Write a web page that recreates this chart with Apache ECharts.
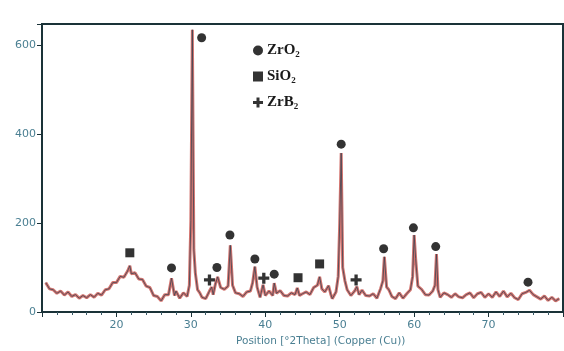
<!DOCTYPE html>
<html>
<head>
<meta charset="utf-8">
<script src="https://cdn.jsdelivr.net/npm/echarts@6/dist/echarts.min.js"></script>
<style>
  html, body { margin: 0; padding: 0; background: #fff; }
  #chart { width: 564px; height: 351px; }
</style>
</head>
<body>
<div id="chart"></div>
<script>
// 2theta positions (deg) and counts
var twoTheta = [
  10.5, 11.0, 11.5, 12.0, 12.5, 13.0, 13.5, 14.0, 14.5, 15.0, 15.5, 16.0, 16.5, 17.0, 17.5,
  18.0, 18.5, 19.0, 19.5, 20.0, 20.5, 21.0, 21.5, 21.8, 22.0, 22.5, 23.0, 23.5, 24.0, 24.5,
  25.0, 25.5, 26.0, 26.5, 27.0, 27.4, 27.8, 28.0, 28.5, 29.0, 29.5, 29.8, 30.0, 30.2, 30.4,
  30.6, 30.9, 31.2, 31.5, 32.0, 32.5, 32.8, 33.0, 33.3, 33.6, 34.0, 34.5, 35.0, 35.3, 35.6,
  36.0, 36.5, 37.0, 37.5, 38.0, 38.3, 38.6, 38.9, 39.3, 39.7, 40.0, 40.5, 41.0, 41.2, 41.5,
  42.0, 42.5, 43.0, 43.5, 44.0, 44.3, 44.6, 45.0, 45.5, 46.0, 46.5, 47.0, 47.3, 47.6, 48.0,
  48.5, 48.8, 49.0, 49.5, 49.8, 50.0, 50.2, 50.4, 50.7, 51.0, 51.5, 52.0, 52.3, 52.6, 53.0,
  53.5, 54.0, 54.5, 55.0, 55.5, 55.8, 56.0, 56.3, 56.6, 57.0, 57.5, 58.0, 58.5, 59.0, 59.5,
  59.8, 60.0, 60.2, 60.5, 61.0, 61.5, 62.0, 62.5, 62.8, 63.0, 63.2, 63.5, 64.0, 64.5, 65.0,
  65.5, 66.0, 66.5, 67.0, 67.5, 68.0, 68.5, 69.0, 69.5, 70.0, 70.5, 71.0, 71.5, 72.0, 72.5,
  73.0, 73.5, 74.0, 74.5, 75.0, 75.5, 76.0, 76.5, 77.0, 77.5, 78.0, 78.5, 79.0, 79.5
];
var counts = [
  66, 52, 50, 42, 47, 38, 45, 35, 39, 31, 37, 32, 39, 33, 42,
  38, 50, 52, 66, 66, 80, 78, 92, 104, 86, 88, 74, 73, 58, 55,
  37, 35, 25, 39, 39, 76, 37, 47, 31, 43, 35, 60, 205, 634, 140,
  88, 50, 43, 33, 30, 47, 56, 39, 63, 79, 55, 51, 58, 150, 60,
  43, 41, 35, 45, 47, 66, 102, 56, 33, 61, 37, 47, 37, 65, 42,
  48, 37, 36, 43, 39, 54, 37, 41, 45, 39, 55, 60, 79, 52, 45,
  59, 40, 30, 45, 80, 200, 357, 100, 70, 50, 37, 47, 57, 39, 49,
  37, 36, 41, 31, 53, 70, 124, 56, 50, 35, 30, 43, 31, 41, 50,
  80, 173, 120, 58, 51, 39, 38, 47, 60, 130, 50, 33, 43, 39, 33,
  41, 34, 32, 39, 43, 32, 41, 44, 33, 41, 33, 45, 35, 47, 34,
  42, 32, 28, 41, 44, 49, 39, 34, 29, 36, 26, 33, 25, 30
];

// phase markers: [2theta, height of the marker]
var zro2Marks = [[27.4, 99], [31.45, 616], [33.5, 100], [35.25, 173], [38.6, 119], [41.2, 85],
  [50.2, 377], [55.9, 142], [59.9, 189], [62.9, 147], [75.3, 67]];
var sio2Marks = [[21.8, 133], [44.4, 77], [47.3, 108]];
var zrb2Marks = [[32.5, 72], [39.8, 76], [52.2, 72]];

var yTicks = [0, 200, 400, 600];

var pattern = twoTheta.map(function (x, i) { return [x, counts[i]]; });
var plusPath = 'path://M3.5,0H6.5V3.5H10V6.5H6.5V10H3.5V6.5H0V3.5H3.5Z';

var chart = echarts.init(document.getElementById('chart'));
var axisColor = '#1a3238';
var labelColor = '#4a7f92';

chart.setOption({
  animation: false,
  grid: {
    left: 42, right: 1, top: 24, bottom: 39,
    show: true, borderColor: axisColor, borderWidth: 2
  },
  legend: {
    data: ['ZrO₂', 'SiO₂', 'ZrB₂'],
    orient: 'vertical',
    left: 248, top: 38,
    itemWidth: 10, itemHeight: 10, itemGap: 11,
    textStyle: { fontFamily: 'Liberation Serif', fontWeight: 'bold', fontSize: 15, color: '#1a1a1a', padding: [0, 0, 0, -1] }
  },
  xAxis: {
    type: 'value', min: 10, max: 80, interval: 10,
    axisLine: { lineStyle: { color: axisColor, width: 2 } },
    axisTick: { show: true, length: 5, lineStyle: { color: axisColor } },
    minorTick: { show: true, splitNumber: 5, length: 3, lineStyle: { color: '#3a5a66' } },
    splitLine: { show: false },
    axisLabel: {
      color: labelColor, fontSize: 11, fontFamily: 'DejaVu Sans', margin: 8,
      showMinLabel: false, showMaxLabel: false
    }
  },
  yAxis: {
    type: 'value', min: 0, max: 647, interval: 200,
    axisLine: { show: true, lineStyle: { color: axisColor, width: 2 } },
    axisTick: { show: true, length: 5, lineStyle: { color: axisColor } },
    splitLine: { show: false },
    axisLabel: {
      color: labelColor, fontSize: 11, fontFamily: 'DejaVu Sans', margin: 6,
      formatter: function (v) { return yTicks.indexOf(v) >= 0 ? String(v) : ''; }
    }
  },
  graphic: [{
    type: 'text', left: 236, top: 336,
    style: { text: 'Position [°2Theta] (Copper (Cu))', fill: labelColor, fontSize: 10.5, fontFamily: 'DejaVu Sans' }
  }],
  series: [
    {
      type: 'line', data: pattern, symbol: 'none',
      lineStyle: { color: '#c9534c', width: 3, opacity: 0.8 }, z: 1
    },
    {
      type: 'line', data: pattern, symbol: 'none',
      lineStyle: { color: '#3c4452', width: 0.8 }, z: 2
    },
    {
      name: 'ZrO₂', type: 'scatter', data: zro2Marks, symbol: 'circle', symbolSize: 9,
      itemStyle: { color: '#000' }, z: 3
    },
    {
      name: 'SiO₂', type: 'scatter', data: sio2Marks, symbol: 'rect', symbolSize: 9,
      itemStyle: { color: '#000' }, z: 3
    },
    {
      name: 'ZrB₂', type: 'scatter', data: zrb2Marks, symbol: plusPath, symbolSize: 11,
      itemStyle: { color: '#000' }, z: 3
    }
  ]
});
</script>
</body>
</html>
